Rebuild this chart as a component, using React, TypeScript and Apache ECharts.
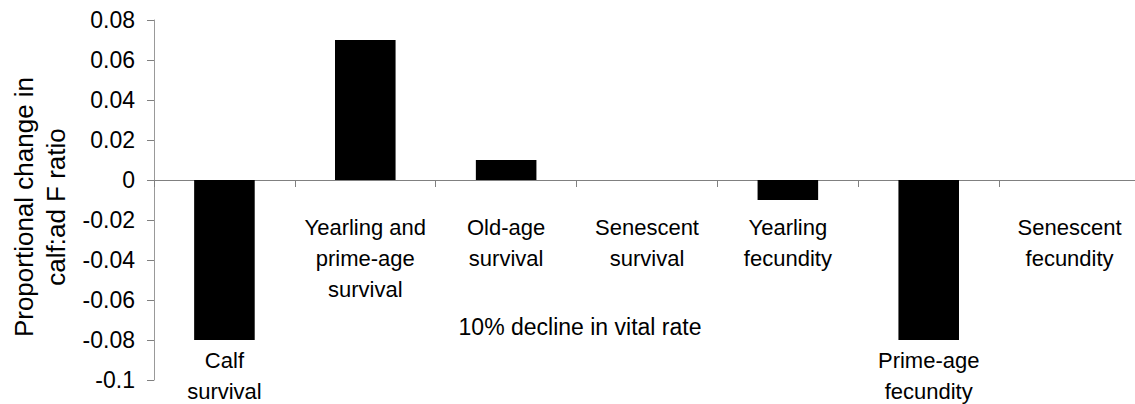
import React, { useEffect, useRef } from "react";
import * as echarts from "echarts";

const categories = [
  "Calf\nsurvival",
  "Yearling and\nprime-age\nsurvival",
  "Old-age\nsurvival",
  "Senescent\nsurvival",
  "Yearling\nfecundity",
  "Prime-age\nfecundity",
  "Senescent\nfecundity",
];
const values = [-0.08, 0.07, 0.01, 0, -0.01, -0.08, 0];
const yTicks = { min: -0.1, max: 0.08, interval: 0.02 };
const yTitle = "Proportional change in\ncalf:ad F ratio";
const xTitle = "10% decline in vital rate";

const FONT = "'Liberation Sans', Arial, Helvetica, sans-serif";
const labelBelowBar = (v: number) => v <= -0.05;

const GRID_TOP = 20;
const GRID_HEIGHT = 360;
// place the category axis at value 0 (distance from the grid's bottom edge)
const zeroOffset = -GRID_HEIGHT * (0 - yTicks.min) / (yTicks.max - yTicks.min);

export default function App() {
  const ref = useRef<HTMLDivElement>(null);
  useEffect(() => {
    if (!ref.current) return;
    const chart = echarts.init(ref.current, null, { renderer: "svg" });
    chart.setOption({
      animation: false,
      backgroundColor: "#ffffff",
      textStyle: { fontFamily: FONT },
      grid: {
        left: 154,
        top: GRID_TOP,
        width: 986,
        height: GRID_HEIGHT,
        containLabel: false,
        outerBoundsMode: "none",
      },
      xAxis: {
        type: "category",
        data: categories,
        position: "bottom",
        offset: zeroOffset,
        axisLine: { show: true, onZero: false, lineStyle: { color: "#808080", width: 1 } },
        axisTick: { show: true, length: 7, lineStyle: { color: "#808080" } },
        axisLabel: {
          interval: 0,
          margin: 32,
          fontSize: 22,
          lineHeight: 31,
          color: "#000",
          fontFamily: FONT,
          formatter: (val: string, idx: number) => (labelBelowBar(values[idx]) ? "" : val),
        },
        splitLine: { show: false },
      },
      yAxis: {
        type: "value",
        min: yTicks.min,
        max: yTicks.max,
        interval: yTicks.interval,
        axisLine: { show: true, lineStyle: { color: "#999999", width: 1 } },
        axisTick: { show: true, length: 7, lineStyle: { color: "#808080" } },
        axisLabel: { fontSize: 23, margin: 19, color: "#000", fontFamily: FONT },
        splitLine: { show: false },
        name: yTitle,
        nameLocation: "middle",
        nameRotate: 90,
        nameGap: 80,
        nameTextStyle: {
          fontSize: 26,
          lineHeight: 32,
          color: "#000",
          fontFamily: FONT,
          padding: [0, 14, 0, 0],
        },
      },
      series: [
        {
          type: "bar",
          barWidth: "43%",
          itemStyle: { color: "#000000" },
          data: values.map((v, i) => ({
            value: v,
            label: labelBelowBar(v)
              ? {
                  show: true,
                  position: "bottom",
                  distance: 5,
                  formatter: categories[i],
                  fontSize: 22,
                  lineHeight: 31,
                  color: "#000",
                  fontFamily: FONT,
                }
              : { show: false },
          })),
        },
      ],
      graphic: [
        {
          type: "text",
          x: 580,
          y: 327,
          style: {
            text: xTitle,
            fontSize: 23,
            fontFamily: FONT,
            fill: "#000",
            align: "center",
            verticalAlign: "middle",
          },
        },
      ],
    });
    return () => chart.dispose();
  }, []);
  return (
    <div
      ref={ref}
      style={{ position: "absolute", left: 0, top: 0, width: 1135, height: 404 }}
    />
  );
}
